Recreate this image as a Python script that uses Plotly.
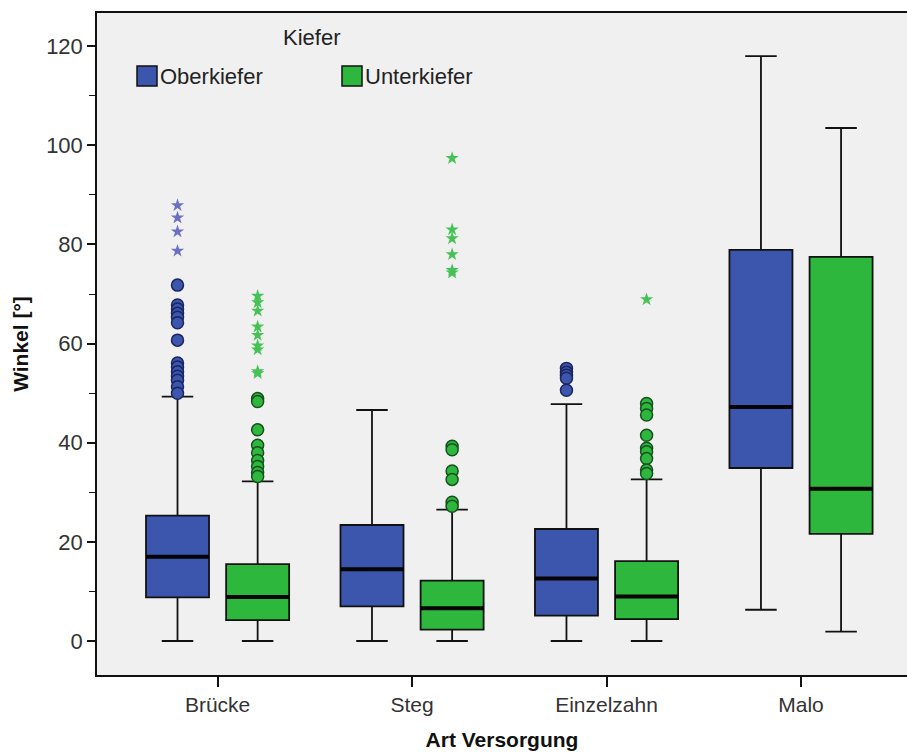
import plotly.graph_objects as go

# ---------------- data ----------------
categories = ["Brücke", "Steg", "Einzelzahn", "Malo"]

ober_low = [0.0, 0.0, 0.0, 6.3]
ober_q1 = [8.8, 7.0, 5.1, 34.9]
ober_med = [17.0, 14.5, 12.6, 47.2]
ober_q3 = [25.3, 23.4, 22.6, 78.9]
ober_high = [49.3, 46.6, 47.8, 118.0]

unter_low = [0.0, 0.0, 0.0, 1.9]
unter_q1 = [4.2, 2.3, 4.4, 21.6]
unter_med = [8.9, 6.6, 9.0, 30.7]
unter_q3 = [15.5, 12.2, 16.1, 77.5]
unter_high = [32.2, 26.5, 32.6, 103.5]

# outliers (circles) and extreme values (stars), per category
ober_out = {
    "Brücke": [71.8, 67.8, 67.0, 66.1, 65.3, 64.2, 60.7, 56.1, 55.3, 54.3, 53.4, 52.6, 51.3, 50.0],
    "Einzelzahn": [55.0, 54.2, 53.6, 53.0, 50.6],
}
ober_ext = {
    "Brücke": [87.9, 85.4, 82.6, 78.7],
}
unter_out = {
    "Brücke": [48.9, 48.3, 42.6, 39.5, 38.0, 36.4, 35.2, 34.0, 33.2],
    "Steg": [39.3, 38.6, 34.3, 32.6, 28.0, 27.2],
    "Einzelzahn": [47.9, 46.9, 45.6, 41.5, 38.9, 38.2, 36.8, 34.5, 33.8],
}
unter_ext = {
    "Brücke": [69.6, 68.3, 66.6, 63.4, 61.7, 59.6, 58.8, 54.4, 54.0],
    "Steg": [97.4, 83.0, 81.2, 78.0, 74.8, 74.3],
    "Einzelzahn": [68.9],
}

series_names = ["Oberkiefer", "Unterkiefer"]
y_tick_values = [0, 20, 40, 60, 80, 100, 120]

# ---------------- style ----------------
BLUE = "#3C56AE"
BLUE_DARK = "#1B2560"
BLUE_STAR = "#6A70C2"
GREEN = "#2DB83D"
GREEN_DARK = "#17501F"
GREEN_STAR = "#45C255"
FONT = "Liberation Sans, Arial, sans-serif"
OFFSET = 0.206
BOX_W = 0.324

fig = go.Figure()

series = [
    (series_names[0], -OFFSET, ober_low, ober_q1, ober_med, ober_q3, ober_high,
     ober_out, ober_ext, BLUE, BLUE_DARK, BLUE_STAR),
    (series_names[1], OFFSET, unter_low, unter_q1, unter_med, unter_q3, unter_high,
     unter_out, unter_ext, GREEN, GREEN_DARK, GREEN_STAR),
]

for name, off, lo, q1, med, q3, hi, outs, exts, fill, dark, star in series:
    pos = [i + off for i in range(len(categories))]
    fig.add_trace(go.Box(
        x=pos, q1=q1, median=med, q3=q3, lowerfence=lo, upperfence=hi,
        width=BOX_W, whiskerwidth=0.5, boxpoints=False,
        fillcolor=fill, line=dict(color="#111111", width=1.8),
        name=name, showlegend=False, hoverinfo="skip",
    ))
    # thick median lines
    mx, my = [], []
    for p, m in zip(pos, med):
        mx += [p - BOX_W / 2, p + BOX_W / 2, None]
        my += [m, m, None]
    fig.add_trace(go.Scatter(x=mx, y=my, mode="lines",
                             line=dict(color="#050505", width=4),
                             showlegend=False, hoverinfo="skip"))
    # outliers
    ox, oy = [], []
    for c, vals in outs.items():
        p = categories.index(c) + off
        ox += [p] * len(vals)
        oy += vals
    fig.add_trace(go.Scatter(x=ox, y=oy, mode="markers",
                             marker=dict(symbol="circle", size=12, color=fill,
                                         line=dict(color=dark, width=1.5)),
                             showlegend=False, hoverinfo="skip"))
    ex, ey = [], []
    for c, vals in exts.items():
        p = categories.index(c) + off
        ex += [p] * len(vals)
        ey += vals
    fig.add_trace(go.Scatter(x=ex, y=ey, mode="markers",
                             marker=dict(symbol="star", size=10, color=star,
                                         line=dict(width=0)),
                             showlegend=False, hoverinfo="skip"))

# ---------------- layout ----------------
W, H = 907, 753
PL, PT, PB = 97, 13, 675          # plot-area edges in page pixels
ML, MR, MT = PL, 0, PT
MB = H - PB
PW, PH = W - ML - MR, H - MT - MB


def px_x(px):
    return (px - PL) / PW


def px_y(py):
    return (PB - py) / PH


fig.add_annotation(x=px_x(311), y=px_y(37), xref="paper", yref="paper",
                   text="Kiefer", showarrow=False, xanchor="center", yanchor="middle",
                   font=dict(family=FONT, size=22, color="#222222"))
for name, x0, fill, dark in [(series_names[0], 137, BLUE, BLUE_DARK),
                             (series_names[1], 342, GREEN, GREEN_DARK)]:
    fig.add_shape(type="rect", xref="paper", yref="paper",
                  x0=px_x(x0), x1=px_x(x0 + 20), y0=px_y(86), y1=px_y(66),
                  fillcolor=fill, line=dict(color="#111111", width=1.5))
    fig.add_annotation(x=px_x(x0 + 21), y=px_y(76), xref="paper", yref="paper",
                       text=name, showarrow=False, xanchor="left", yanchor="middle",
                       font=dict(family=FONT, size=22, color="#222222"))

fig.update_layout(
    width=W, height=H,
    margin=dict(l=ML, r=MR, t=MT, b=MB, autoexpand=False),
    paper_bgcolor="white",
    plot_bgcolor="#F0F0F0",
    font=dict(family=FONT, size=21, color="#222222"),
    showlegend=False,
    xaxis=dict(
        range=[-0.62, 3.545], tickvals=list(range(len(categories))), ticktext=categories,
        showline=True, linecolor="#111111", linewidth=1.5, mirror=True,
        ticks="outside", ticklen=10, tickwidth=1.5, tickcolor="#111111",
        showgrid=False, zeroline=False,
        title=dict(text="<b>Art Versorgung</b>", standoff=17,
                   font=dict(family=FONT, size=21, color="#111111")),
        tickfont=dict(family=FONT, size=21, color="#333333"),
    ),
    yaxis=dict(
        range=[-6.86, 126.7], tickvals=y_tick_values,
        showline=True, linecolor="#111111", linewidth=1.5,
        ticks="outside", ticklen=8, tickwidth=1.5, tickcolor="#111111",
        minor=dict(dtick=10, ticks="outside", ticklen=6, tickcolor="#111111", tickwidth=1.2, showgrid=False),
        showgrid=False, zeroline=False,
        title=dict(text="<b>Winkel [°]</b>", standoff=12,
                   font=dict(family=FONT, size=21, color="#111111")),
        tickfont=dict(family=FONT, size=22, color="#333333"),
    ),
)

fig.write_html(
    "out.html",
    config={"displayModeBar": False},
    post_script="document.body.style.margin='0';document.body.style.overflow='hidden';",
)
